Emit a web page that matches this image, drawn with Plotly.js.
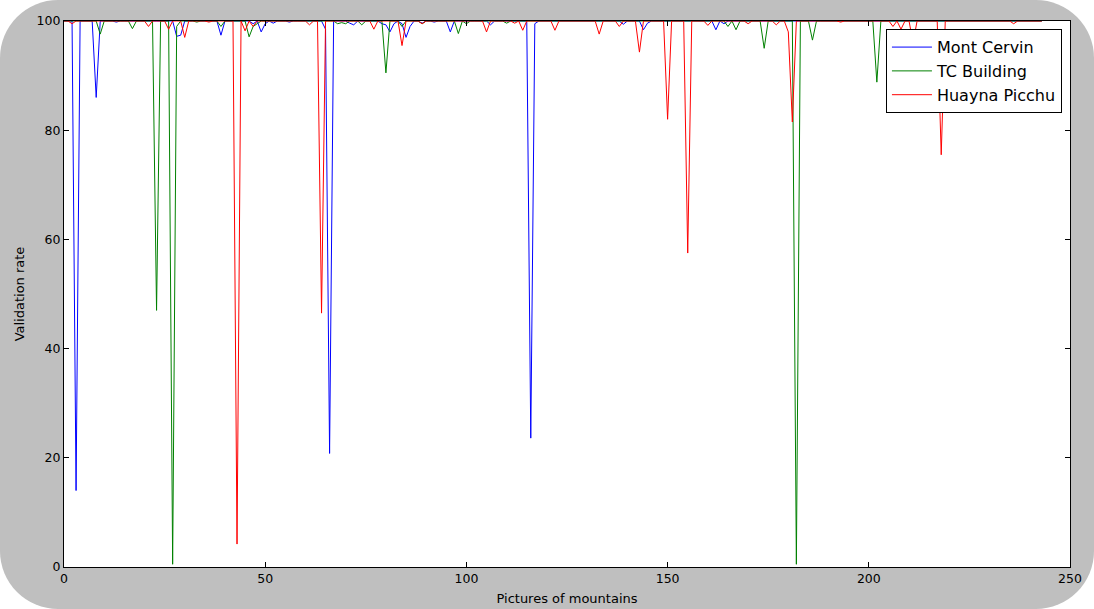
<!DOCTYPE html>
<html>
<head>
<meta charset="utf-8">
<script src="https://cdn.plot.ly/plotly-3.0.1.min.js"></script>
<style>
  html, body { margin: 0; padding: 0; background: #ffffff; }
  #wrap { width: 1094px; height: 609px; border-radius: 58px; overflow: hidden; background: #bfbfbf; }
  #chart { width: 1094px; height: 609px; }
</style>
</head>
<body>
<div id="wrap"><div id="chart"></div></div>
<script>
// Validation rate per picture index
const montCervin = [
  100,100,100,14,100,100,100,100,86,100,
  100,100,100,99.8,100,100,100,100,100,100,
  100,100,100,100,100,100,100,100,97.2,97.4,
  100,100,100,100,100,100,100,100,100,97.4,
  100,100,100,100,100,100,100,99.5,100,98,
  99.5,100,99.6,100,100,100,99.8,100,100,100,
  100,100,100,100,100,98.5,20.8,100,100,100,
  100,99.6,99.3,100,100,100,100,100,100,99.5,
  99.3,98,99.5,100,99.5,97,99,100,100,99.6,
  100,100,99.8,100,100,100,98,100,100,100,
  100,100,100,100,100,100,99.3,100,100,100,
  100,100,100,100,100,100,23.6,99.5,100,100,
  100,100,100,100,100,100,100,100,100,100,
  100,100,100,100,100,100,100,100,100,99.4,
  100,100,100,100,98.4,99.6,100,100,100,100,
  100,100,100,100,100,100,100,100,100,100,
  100,100,98.4,100,99.5,100,100,100,100,100,
  100,100,100,100,100,100,100,100,100,100,
  100,100,100,100,100,100,100,100,100,100,
  100,100,100,100,100,100,100,100,100,100,
  100,100,100,100,100,100,100,100,100,100,
  100,100,100,100,100,100,100,100,100,100,
  100,100,100,100,100,100,100,100,100,100,
  100,100,100,100,100,100,100,100,100,100,
  100,100,100,100
];
const tcBuilding = [
  100,100,100,100,100,100,100,100,100,97.6,
  100,100,100,100,100,100,100,98.6,100,100,
  100,100,100,47,100,100,100,0.5,99,100,
  100,100,100,99.8,100,100,100,100,100,99,
  100,100,100,100,100,100,97.1,99,99.5,100,
  100,100,100,100,100,100,100,100,100,100,
  100,100,100,100,100,100,100,100,99.5,99.7,
  99.5,100,100,100,99.3,100,100,100,100,100,
  90.5,100,100,100,99,100,100,100,100,99.5,
  100,100,100,100,100,100,100,100,97.7,100,
  99.5,100,100,100,100,100,100,100,100,100,
  99.6,100,100,100,100,100,100,100,100,100,
  100,100,100,100,100,100,100,100,100,100,
  100,100,100,100,100,100,100,100,100,100,
  100,100,100,100,100,100,100,100,100,100,
  100,100,100,100,100,100,100,100,100,100,
  100,100,100,100,100,99,100,98.4,100,100,
  100,100,100,100,95,100,100,100,100,100,
  100,100,0.5,100,100,100,96.5,100,100,100,
  100,100,100,100,100,100,100,100,100,100,
  100,100,88.8,100,100,100,100,100,100,100,
  100,100,100,100,100,100,100,100,100,100,
  100,100,100,100,100,100,100,100,100,100,
  100,100,100,100,100,100,100,100,100,100,
  100,100,100,100
];
const huaynaPicchu = [
  100,100,99.5,100,100,100,100,100,100,100,
  100,100,100,100,100,100,100,100,100,100,
  100,99,100,100,100,100,98.5,100,100,100,
  97,100,100,100,100,100,99.8,100,100,100,
  100,100,100,4.2,100,98.2,100,99,100,100,
  100,100,100,100,100,100,100,100,100,100,
  100,99.3,100,100,46.5,100,100,100,100,100,
  100,100,100,100,100,100,100,98.5,100,100,
  100,100,100,100,95.5,100,100,100,100,99.5,
  100,100,100,100,100,100,100,100,100,100,
  100,100,100,100,100,98,100,100,100,100,
  100,100,99.6,100,98.3,100,100,100,100,100,
  100,100,98.3,100,100,100,100,100,100,100,
  100,100,100,97.6,100,100,100,100,99,100,
  100,100,100,94.3,100,100,100,100,100,100,
  82,100,100,100,100,57.5,100,100,100,100,
  99.2,100,100,100,100,100,100,100,100,100,
  99.5,100,100,100,100,100,100,99.3,100,100,
  98,81.5,100,100,100,100,100,100,100,100,
  100,100,100,99.8,100,100,100,100,100,100,
  100,100,100,100,100,100,99,100,98.5,100,
  100,96,100,100,100,100,100,100,75.5,100,
  100,100,100,100,100,100,100,100,100,100,
  100,100,100,100,100,100,99.5,100,100,100,
  100,100,100,100
];
const seriesNames = ["Mont Cervin", "TC Building", "Huayna Picchu"];
const seriesColors = ["#0000ff", "#008000", "#ff0000"];
const xTicks = [0, 50, 100, 150, 200, 250];
const yTicks = [0, 20, 40, 60, 80, 100];

const allSeries = [montCervin, tcBuilding, huaynaPicchu];
const traces = allSeries.map((ys, i) => ({
  type: "scatter",
  mode: "lines",
  name: seriesNames[i],
  x: ys.map((_, k) => k),
  y: ys,
  line: { color: seriesColors[i], width: 1 },
  hoverinfo: "x+y+name"
}));

const axisCommon = {
  showline: true, linecolor: "#000", linewidth: 1.2, mirror: "allticks",
  ticks: "inside", ticklen: 5, tickcolor: "#000", tickwidth: 1,
  showgrid: false, zeroline: false,
  tickfont: { family: "DejaVu Sans", size: 12.5, color: "#000" }
};

const layout = {
  width: 1094, height: 609,
  margin: { l: 64, r: 24, t: 21, b: 42 },
  paper_bgcolor: "rgba(0,0,0,0)",
  plot_bgcolor: "#ffffff",
  font: { family: "DejaVu Sans", color: "#000" },
  showlegend: true,
  legend: {
    x: 0.992, y: 0.985, xanchor: "right", yanchor: "top",
    itemwidth: 40, tracegroupgap: 0,
    bgcolor: "#ffffff", bordercolor: "#000", borderwidth: 1,
    font: { family: "DejaVu Sans", size: 16, color: "#000" }
  },
  xaxis: Object.assign({}, axisCommon, {
    range: [0, 250], tickvals: xTicks, ticktext: xTicks.map(String),
    title: { text: "Pictures of mountains", font: { family: "DejaVu Sans", size: 13 }, standoff: 8 }
  }),
  yaxis: Object.assign({}, axisCommon, {
    range: [0, 100], tickvals: yTicks, ticktext: yTicks.map(String),
    title: { text: "Validation rate", font: { family: "DejaVu Sans", size: 13 }, standoff: 8 }
  })
};

Plotly.newPlot("chart", traces, layout, { displayModeBar: false });
</script>
</body>
</html>
